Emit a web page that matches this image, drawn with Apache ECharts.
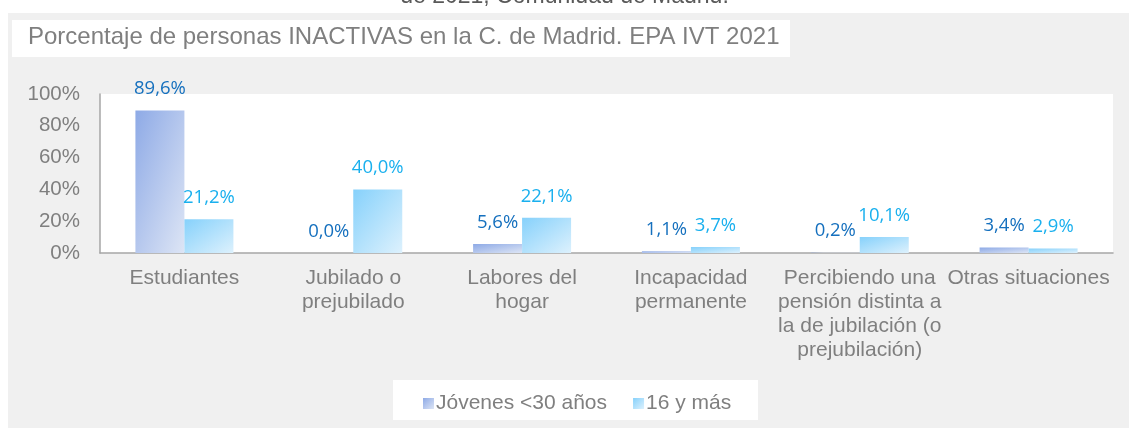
<!DOCTYPE html>
<html>
<head>
<meta charset="utf-8">
<script src="https://cdn.jsdelivr.net/npm/echarts@6/dist/echarts.min.js"></script>
<style>
  html, body { margin: 0; padding: 0; background: #fff; }
  #chart { width: 1129px; height: 428px; }
</style>
</head>
<body>
<div id="chart"></div>
<script>
// data
const categories = [
  'Estudiantes',
  'Jubilado o\nprejubilado',
  'Labores del\nhogar',
  'Incapacidad\npermanente',
  'Percibiendo una\npensión distinta a\nla de jubilación (o\nprejubilación)',
  'Otras situaciones'
];
const jovenes = [89.6, 0.0, 5.6, 1.1, 0.2, 3.4];
const mayores16 = [21.2, 40.0, 22.1, 3.7, 10.1, 2.9];
const seriesNames = ['Jóvenes <30 años', '16 y más'];
const yTicks = { min: 0, max: 100, interval: 20 };

const plotH = 159, barW = 49;
const fmt = v => v.toFixed(1).replace('.', ',') + '%';

// diagonal gradient scaled with the bar shape (isolines along the anti-diagonal)
function diagGrad(v, a, b) {
  const h = Math.max(v / yTicks.max * plotH, 1), w = barW;
  const d = h * h + w * w;
  return new echarts.graphic.LinearGradient(0, 0, 2 * h * h / d, 2 * w * w / d, [
    { offset: 0, color: a }, { offset: 1, color: b }
  ]);
}
const withGrad = (arr, a, b) => arr.map(v => ({ value: v, itemStyle: { color: diagGrad(v, a, b) } }));

const chart = echarts.init(document.getElementById('chart'), null, { renderer: 'canvas' });

const labelFont = 'Open Sans, Noto Sans, sans-serif';
const textFont = 'Liberation Sans, Arial, sans-serif';

const c1 = ['#8eaae6', '#dde5f5'];
const c2 = ['#86d1fb', '#ddf1fd'];

chart.setOption({
  animation: false,
  backgroundColor: '#ffffff',
  graphic: [
    { type: 'rect', z: -10, shape: { x: 8, y: 13, width: 1121, height: 415 }, style: { fill: '#f0f0f0' } },
    { type: 'rect', z: -9, shape: { x: 100, y: 94, width: 1013, height: 159 }, style: { fill: '#ffffff' } },
    { type: 'rect', z: -9, shape: { x: 12, y: 20, width: 778, height: 37 }, style: { fill: '#ffffff' } },
    { type: 'rect', z: -9, shape: { x: 393, y: 380, width: 365, height: 40 }, style: { fill: '#ffffff' } },
    { type: 'text', left: 28, top: 25,
      style: { text: 'Porcentaje de personas INACTIVAS en la C. de Madrid. EPA IVT 2021',
        fill: '#7f7f7f', font: '24px ' + textFont } },
    { type: 'text', left: 'center', top: -15,
      style: { text: 'de 2021, Comunidad de Madrid.', fill: '#595959', font: '23px ' + textFont } }
  ],
  legend: {
    data: seriesNames,
    left: 418,
    top: 388,
    itemWidth: 11,
    itemHeight: 11,
    itemGap: 26,
    icon: 'rect',
    textStyle: { color: '#7f7f7f', fontSize: 21, fontFamily: textFont, padding: [0, 0, 0, -3] }
  },
  grid: { left: 100, right: 16, top: 94, bottom: 175, containLabel: false },
  xAxis: {
    type: 'category',
    data: categories,
    axisLine: { lineStyle: { color: '#a6a6a6', width: 1.5 } },
    axisTick: { show: false },
    axisLabel: {
      interval: 0, color: '#7f7f7f', fontSize: 21, fontFamily: textFont,
      lineHeight: 24, margin: 13, align: 'center'
    }
  },
  yAxis: {
    type: 'value',
    min: yTicks.min, max: yTicks.max, interval: yTicks.interval,
    axisLine: { show: true, lineStyle: { color: '#a6a6a6', width: 1.5 } },
    axisTick: { show: false },
    splitLine: { show: false },
    axisLabel: { color: '#7f7f7f', fontSize: 20.5, fontFamily: textFont, margin: 20, formatter: v => v + '%' }
  },
  series: [
    {
      name: seriesNames[0], type: 'bar', data: withGrad(jovenes, c1[0], c1[1]), barWidth: barW, barGap: '0%',
      itemStyle: { color: new echarts.graphic.LinearGradient(0, 0, 1, 1, [{ offset: 0, color: c1[0] }, { offset: 1, color: c1[1] }]) },
      label: { show: true, position: 'top', distance: 12, color: '#1570be', fontSize: 18.5,
        fontFamily: labelFont, formatter: p => fmt(p.value) }
    },
    {
      name: seriesNames[1], type: 'bar', data: withGrad(mayores16, c2[0], c2[1]), barWidth: barW, barGap: '0%',
      itemStyle: { color: new echarts.graphic.LinearGradient(0, 0, 1, 1, [{ offset: 0, color: c2[0] }, { offset: 1, color: c2[1] }]) },
      label: { show: true, position: 'top', distance: 12, color: '#1ab0ee', fontSize: 18.5,
        fontFamily: labelFont, formatter: p => fmt(p.value) }
    }
  ]
});
</script>
</body>
</html>
